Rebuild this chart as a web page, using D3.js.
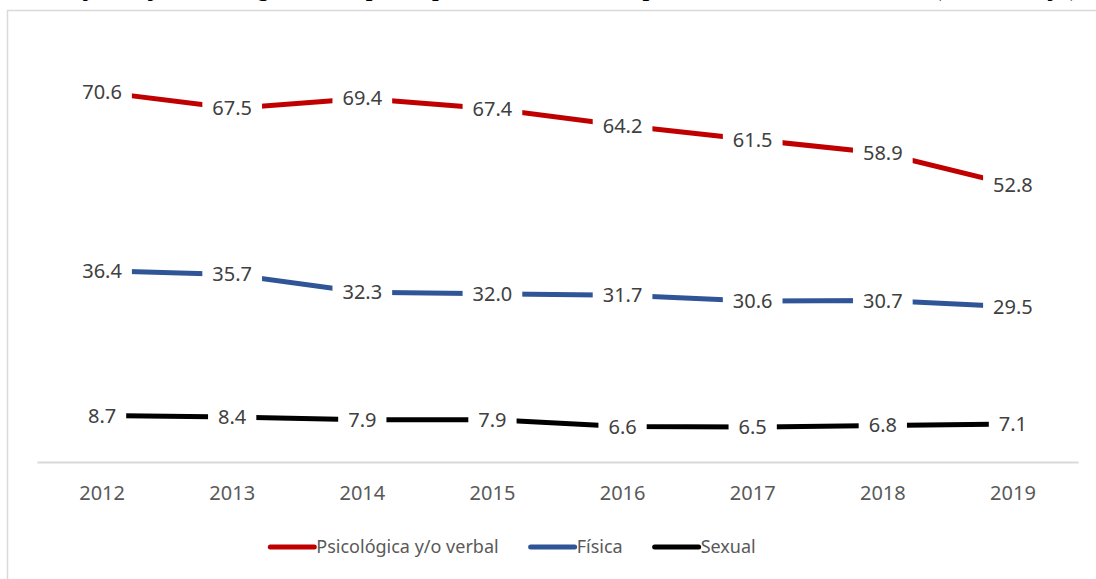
<!DOCTYPE html>
<html>
<head>
<meta charset="utf-8">
<script src="https://cdn.jsdelivr.net/npm/d3@7"></script>
<style>
  html, body { margin: 0; padding: 0; background: #fff; overflow: hidden; }
</style>
</head>
<body>
<div id="screen"></div>
<script>
const years = ['2012', '2013', '2014', '2015', '2016', '2017', '2018', '2019']
const psicologica = [70.6, 67.5, 69.4, 67.4, 64.2, 61.5, 58.9, 52.8]
const fisica = [36.4, 35.7, 32.3, 32.0, 31.7, 30.6, 30.7, 29.5]
const sexual = [8.7, 8.4, 7.9, 7.9, 6.6, 6.5, 6.8, 7.1]
const seriesNames = ['Psicológica y/o verbal', 'Física', 'Sexual']
const seriesColors = ['#C00000', '#2F5597', '#000000']
const titleText = 'Mujeres jóvenes agredidas por tipo de violencia experimentada, 2012-2019 (Porcentaje)'

const width = 1096
const height = 579
const margin = { top: 43, right: 18, bottom: 118, left: 37 }
const labelFont = "'Noto Sans', 'Open Sans', sans-serif"

const series = [psicologica, fisica, sexual].map((values, i) => ({
  name: seriesNames[i],
  color: seriesColors[i],
  values: values.map((v, j) => ({ year: years[j], value: v }))
}))

const container = d3.select('#screen')
container.selectAll('*').remove()
const svg = container.append('svg')
  .attr('width', width)
  .attr('height', height)

// titre coupé en haut de l'image (comme sur la référence)
svg.append('text')
  .attr('x', 561)
  .attr('y', -4)
  .attr('text-anchor', 'middle')
  .attr('font-family', "'Liberation Serif', 'Times New Roman', serif")
  .attr('font-weight', 'bold')
  .attr('font-size', '24px')
  .attr('textLength', 1034)
  .attr('lengthAdjust', 'spacing')
  .attr('fill', '#000')
  .text(titleText)

// cadre du graphique
svg.append('rect')
  .attr('x', 7.5)
  .attr('y', 10.5)
  .attr('width', width + 20)
  .attr('height', height + 20)
  .attr('fill', 'none')
  .attr('stroke', '#d9d9d9')
  .attr('stroke-width', 1.5)

const x = d3.scaleBand()
  .domain(years)
  .range([margin.left, width - margin.right])

const y = d3.scaleLinear()
  .domain([0, 80])
  .range([height - margin.bottom, margin.top])

// axe horizontal
const xAxis = svg.append('g')
  .attr('transform', `translate(0,${y(0) + 1})`)
  .call(d3.axisBottom(x).tickSize(0).tickPadding(24))
xAxis.select('.domain').attr('stroke', '#d9d9d9').attr('stroke-width', 2)
xAxis.selectAll('text')
  .attr('font-family', labelFont)
  .attr('font-size', '20px')
  .attr('fill', '#595959')

const line = d3.line()
  .x(d => x(d.year) + x.bandwidth() / 2)
  .y(d => y(d.value))

svg.selectAll('path.serie')
  .data(series)
  .join('path')
  .attr('class', 'serie')
  .attr('d', d => line(d.values))
  .attr('fill', 'none')
  .attr('stroke', d => d.color)
  .attr('stroke-width', 5)
  .attr('stroke-linejoin', 'round')

// étiquettes de données avec fond blanc
const labels = svg.selectAll('g.labels')
  .data(series)
  .join('g')
  .attr('class', 'labels')
  .selectAll('g')
  .data(d => d.values)
  .join('g')
  .attr('transform', d => `translate(${x(d.year) + x.bandwidth() / 2},${y(d.value)})`)

labels.append('rect').attr('fill', '#fff')
labels.append('text')
  .attr('text-anchor', 'middle')
  .attr('dy', '0.35em')
  .attr('font-family', labelFont)
  .attr('font-size', '20px')
  .attr('fill', '#404040')
  .text(d => d3.format('.1f')(d.value))

labels.each(function () {
  const t = d3.select(this).select('text').node()
  const w = t.getComputedTextLength()
  d3.select(this).select('rect')
    .attr('x', -w / 2 - 10)
    .attr('y', -13)
    .attr('width', w + 20)
    .attr('height', 26)
})

// légende
const legend = svg.append('g')
  .attr('transform', `translate(0,547)`)
const items = legend.selectAll('g')
  .data(series)
  .join('g')
items.append('line')
  .attr('x1', 2).attr('x2', 46)
  .attr('stroke', d => d.color)
  .attr('stroke-width', 5)
  .attr('stroke-linecap', 'round')
items.append('text')
  .attr('x', 48)
  .attr('dy', '0.35em')
  .attr('font-family', labelFont)
  .attr('font-size', '18px')
  .attr('fill', '#595959')
  .text(d => d.name)

const gap = 30
const widths = []
items.each(function () {
  widths.push(48 + d3.select(this).select('text').node().getComputedTextLength())
})
const total = d3.sum(widths) + gap * (widths.length - 1)
let cx = 512 - total / 2
items.each(function (d, i) {
  d3.select(this).attr('transform', `translate(${cx},0)`)
  cx += widths[i] + gap
})
</script>
</body>
</html>
